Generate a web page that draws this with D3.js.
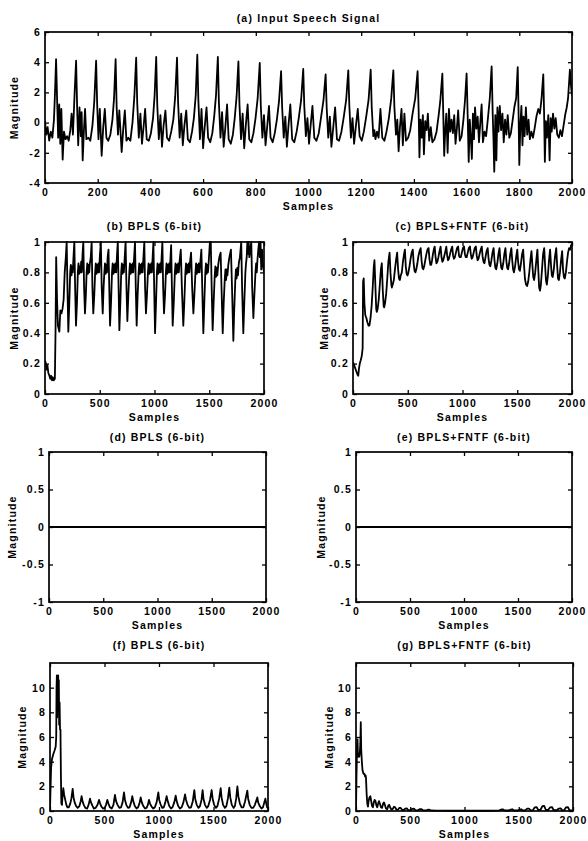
<!DOCTYPE html>
<html>
<head>
<meta charset="utf-8">
<script src="https://cdn.jsdelivr.net/npm/d3@7"></script>
<style>
  body { margin: 0; background: #fff; }
  svg text { font-family: "Liberation Sans", Arial, sans-serif; font-weight: bold; }
</style>
</head>
<body>
<div id="chart"></div>
<script>

// ---- data: [sample, magnitude] vertices ----

const titles = ["(a) Input Speech Signal", "(b) BPLS (6-bit)", "(c) BPLS+FNTF (6-bit)",
    "(d) BPLS (6-bit)", "(e) BPLS+FNTF (6-bit)", "(f) BPLS (6-bit)", "(g) BPLS+FNTF (6-bit)"];

const xTicksSpeech = [0, 200, 400, 600, 800, 1000, 1200, 1400, 1600, 1800, 2000];
const xTicksSmall = [0, 500, 1000, 1500, 2000];
const yTicksSpeech = [-4, -2, 0, 2, 4, 6];
const yTicksUnit = [0, 0.2, 0.4, 0.6, 0.8, 1];
const yTicksSym = [-1, -0.5, 0, 0.5, 1];
const yTicksErr = [0, 2, 4, 6, 8, 10];

const speech = [
    [0,0.1],[5,-0.8],[10,-0.3],[16,-1.2],[22,-0.6],[28,-1.0],[34,0.2],[38,2.0],
    [42,4.2],[46,1.5],[50,-1.0],[54,1.2],[58,-1.4],[62,0.9],[67,-2.45],[72,-0.6],[78,-1.1],[84,-0.9],[90,-1.2],[96,-0.5],[101,0.6],[106,-0.8],[112,1.8],
    [118,4.1],[122,1.0],[126,-1.5],[131,1.0],[136,-0.9],[139,0.7],[143,-2.5],[148,-0.4],[152,0.9],[157,-1.1],[165,-1.0],[172,-1.2],[180,-0.2],[187,1.4],
    [194,4.1],[198,1.2],[203,-1.1],[208,0.9],[215,-2.2],[221,-0.3],[227,0.9],[233,-1.0],[240,-1.2],[248,-0.8],[256,0.2],[262,1.6],
    [268,4.2],[272,1.0],[277,-0.8],[282,0.8],[291,-1.95],[297,-0.4],[303,0.8],[309,-1.2],[316,-1.0],[324,-1.2],[332,0.0],[339,1.7],
    [346,4.3],[350,1.3],[356,-1.0],[362,0.6],[368,-1.4],[374,-0.3],[380,0.9],[386,-1.1],[394,-1.2],[402,-0.7],[410,0.3],[416,1.8],
    [422,4.35],[426,1.2],[432,-1.1],[438,0.5],[444,-1.6],[450,-0.2],[457,0.8],[463,-1.0],[471,-1.2],[479,-0.6],[487,0.2],[494,1.7],
    [501,4.3],[505,1.4],[511,-1.0],[517,0.6],[523,-1.5],[529,-0.2],[536,0.8],[542,-1.1],[550,-1.3],[558,-0.6],[565,0.3],[572,1.8],
    [578,4.5],[582,1.5],[588,-1.1],[594,0.9],[600,-1.7],[606,-0.3],[613,1.0],[619,-1.0],[627,-1.3],[635,-0.7],[642,0.4],[649,1.8],
    [656,4.35],[660,1.3],[666,-1.0],[672,0.7],[678,-1.6],[684,-0.4],[691,1.2],[697,-1.1],[705,-1.4],[713,-0.8],[720,0.3],[727,1.7],
    [734,4.05],[738,1.2],[744,-1.1],[750,0.6],[756,-1.7],[762,-0.2],[769,1.2],[775,-1.1],[783,-1.3],[791,-0.7],[799,0.3],[807,1.6],
    [815,3.95],[819,1.1],[825,-1.0],[831,0.5],[837,-1.5],[843,-0.3],[850,1.1],[856,-1.0],[864,-1.3],[872,-0.7],[880,0.2],[888,1.4],
    [896,3.4],[900,1.0],[906,-1.0],[912,0.4],[918,-1.6],[924,-0.2],[931,1.2],[938,-1.1],[946,-1.3],[955,-0.6],[963,0.3],[972,1.5],
    [980,3.55],[984,1.1],[990,-0.9],[996,0.3],[1002,-1.4],[1008,-0.2],[1015,1.1],[1022,-1.0],[1030,-1.2],[1039,-0.7],[1048,0.4],[1057,1.5],
    [1065,3.2],[1069,1.0],[1075,-1.0],[1081,0.4],[1087,-1.6],[1094,-0.3],[1101,1.0],[1108,-1.1],[1116,-1.2],[1125,-0.6],[1134,0.4],[1143,1.5],
    [1151,3.46],[1155,1.1],[1161,-1.0],[1167,0.3],[1173,-1.4],[1180,-0.2],[1187,0.9],[1194,-0.9],[1202,-1.2],[1210,-0.6],[1219,0.4],[1228,1.5],
    [1236,3.5],[1240,1.0],[1246,-0.9],[1250,-0.5],[1254,-1.1],[1260,-0.6],[1266,-1.0],[1273,0.9],[1280,-1.0],[1288,-1.2],[1296,-0.6],[1305,0.3],[1314,1.6],
    [1322,3.46],[1326,1.0],[1332,-0.8],[1337,0.2],[1342,-1.9],[1347,-0.3],[1353,0.9],[1358,-1.5],[1364,0.6],[1370,-1.2],[1378,-1.0],[1386,-0.5],[1395,0.6],[1405,1.6],
    [1414,3.4],[1418,0.8],[1421,-2.3],[1425,0.2],[1430,-1.0],[1434,0.5],[1438,-2.1],[1443,0.1],[1448,-0.5],[1453,0.6],[1458,-1.2],[1464,-0.3],[1470,-1.3],[1478,-1.1],[1486,-0.6],[1494,0.5],[1500,1.4],
    [1508,3.24],[1511,0.9],[1515,-2.2],[1519,-0.5],[1523,0.6],[1528,-2.0],[1533,0.9],[1538,-0.6],[1543,0.2],[1548,-0.7],[1553,0.5],[1558,-1.4],[1563,-0.4],[1568,0.8],[1574,-1.2],[1581,-0.9],[1588,0.2],[1594,1.5],
    [1600,3.25],[1604,0.5],[1608,-2.6],[1612,0.2],[1616,-1.0],[1620,-2.4],[1624,0.6],[1628,-1.1],[1632,1.0],[1637,-0.4],[1642,0.4],[1647,-1.3],[1652,0.0],[1657,1.2],[1662,-1.3],[1668,-0.6],[1674,-0.9],[1681,0.3],[1688,1.6],
    [1695,3.72],[1699,0.6],[1702,-1.1],[1705,-3.25],[1709,0.5],[1713,-2.5],[1717,1.0],[1721,-0.6],[1726,1.1],[1731,-0.5],[1736,0.6],[1741,-1.3],[1746,0.2],[1751,-0.8],[1756,0.5],[1762,-1.0],[1768,-0.7],[1775,0.2],[1782,1.1],[1788,1.6],
    [1794,3.68],[1797,0.9],[1800,-2.8],[1804,-0.2],[1808,1.1],[1812,-1.5],[1816,0.4],[1820,-0.9],[1825,1.0],[1830,-0.8],[1835,0.2],[1840,-1.1],[1846,-0.6],[1852,-1.0],[1858,-0.4],[1865,0.4],[1872,0.9],[1878,0.6],[1884,1.5],
    [1891,3.2],[1894,0.7],[1897,-2.6],[1901,0.1],[1905,-1.0],[1910,0.5],[1915,-2.5],[1919,0.3],[1923,-0.6],[1928,0.6],[1933,-0.4],[1938,0.3],[1944,-0.8],[1950,-1.0],[1956,-0.5],[1962,-0.9],[1968,-0.2],[1974,0.5],[1980,1.0],[1985,1.6],
    [1992,3.5],[1996,2.5],[2000,1.8]
];

const bplsB = [
    [0,0.22],[8,0.2],[14,0.16],[22,0.19],[30,0.14],[40,0.12],[48,0.1],[56,0.12],[64,0.09],[72,0.11],[80,0.09],[90,0.1],[96,0.4],[102,0.9],[110,0.62],[118,0.45],
    [131,0.41],[140,0.55],[150,0.53],[160,0.56],[170,0.62],[180,0.8],[190,0.9],[198,1.0],[205,0.7],[213,0.41],
    [222,0.6],[230,0.8],[236,0.85],[242,0.78],[248,0.84],[254,0.8],[260,0.9],[268,1.0],[275,0.7],[283,0.45],
    [292,0.6],[300,0.8],[306,0.86],[312,0.79],[318,0.84],[324,0.8],[330,0.87],[336,0.8],[343,0.92],[350,1.0],[357,0.7],[365,0.53],
    [373,0.65],[380,0.8],[386,0.86],[392,0.79],[398,0.85],[404,0.8],[410,0.86],[418,0.9],[426,1.0],[433,0.7],[441,0.53],
    [450,0.65],[458,0.8],[464,0.86],[470,0.79],[476,0.85],[482,0.8],[488,0.86],[494,0.8],[502,0.92],[510,1.0],[518,0.7],[527,0.53],
    [535,0.7],[542,0.8],[548,0.86],[554,0.79],[560,0.85],[566,0.8],[572,0.9],[580,0.95],[587,0.7],[594,0.45],
    [603,0.6],[612,0.8],[618,0.86],[624,0.79],[630,0.85],[636,0.8],[642,0.86],[650,0.8],[658,0.92],[665,1.0],[672,0.7],[679,0.42],
    [688,0.6],[696,0.8],[702,0.86],[708,0.79],[714,0.85],[720,0.8],[728,0.9],[736,1.0],[744,0.7],[752,0.48],
    [761,0.65],[770,0.8],[776,0.86],[782,0.79],[788,0.85],[794,0.8],[800,0.86],[806,0.8],[814,0.9],[822,1.0],[829,0.7],[837,0.45],
    [846,0.65],[855,0.8],[861,0.86],[867,0.79],[873,0.85],[879,0.8],[885,0.86],[891,0.8],[899,0.9],[907,1.0],[914,0.7],[922,0.53],
    [931,0.65],[940,0.8],[946,0.86],[952,0.79],[958,0.85],[964,0.8],[970,0.86],[976,0.8],[983,0.9],[990,1.0],[997,0.7],[1005,0.4],
    [1014,0.6],[1022,0.8],[1028,0.86],[1034,0.79],[1040,0.85],[1046,0.8],[1052,0.86],[1058,0.8],[1065,0.9],[1072,1.0],[1079,0.7],[1087,0.53],
    [1096,0.65],[1104,0.8],[1110,0.86],[1116,0.79],[1122,0.85],[1128,0.8],[1134,0.86],[1140,0.8],[1146,0.9],[1152,0.98],[1159,0.7],[1166,0.45],
    [1176,0.6],[1186,0.8],[1192,0.86],[1198,0.79],[1204,0.85],[1210,0.8],[1216,0.86],[1222,0.8],[1230,0.88],[1240,0.95],[1250,0.7],[1263,0.45],
    [1272,0.6],[1282,0.8],[1288,0.86],[1294,0.79],[1300,0.85],[1306,0.8],[1312,0.86],[1318,0.8],[1326,0.88],[1334,0.93],[1344,0.7],[1355,0.53],
    [1364,0.65],[1374,0.8],[1380,0.86],[1386,0.79],[1392,0.85],[1398,0.8],[1404,0.86],[1412,0.8],[1420,0.88],[1428,0.95],[1436,0.7],[1446,0.4],
    [1455,0.6],[1464,0.8],[1470,0.86],[1476,0.79],[1482,0.85],[1488,0.8],[1496,0.88],[1506,1.0],[1514,1.0],[1522,0.7],[1531,0.42],
    [1540,0.6],[1550,0.78],[1556,0.84],[1562,0.77],[1568,0.83],[1574,0.78],[1582,0.85],[1592,0.9],[1604,0.93],[1612,0.7],[1623,0.4],
    [1632,0.6],[1642,0.76],[1648,0.82],[1654,0.75],[1660,0.82],[1666,0.78],[1674,0.85],[1684,0.9],[1698,0.95],[1708,0.7],[1720,0.35],
    [1728,0.55],[1738,0.75],[1744,0.82],[1750,0.76],[1756,0.83],[1762,0.78],[1770,0.86],[1780,0.9],[1792,1.0],[1800,0.7],[1811,0.4],
    [1820,0.6],[1830,0.8],[1836,0.86],[1842,0.9],[1848,1.0],[1854,0.92],[1860,1.0],[1866,0.9],[1874,0.95],[1884,1.0],[1892,0.7],[1903,0.5],
    [1912,0.65],[1922,0.8],[1928,0.86],[1934,0.8],[1940,0.88],[1948,0.95],[1955,1.0],[1962,0.9],[1968,1.0],[1975,0.82],[1982,0.95],[1990,0.85],[2000,0.8]
];

const fntfC = [
    [0,0.21],[10,0.19],[20,0.17],[30,0.15],[40,0.13],[48,0.12],[55,0.17],[62,0.2],[70,0.22],[80,0.25],[88,0.3],[92,0.74],[98,0.76],[104,0.6],[112,0.52],[122,0.5],[132,0.47],[142,0.45],[150,0.45],[160,0.5],[170,0.58],[180,0.7],[190,0.84],[196,0.88],
    [205,0.7],[212,0.56],[217,0.54],[225,0.56],[235,0.62],[245,0.72],[255,0.82],[263,0.86],
    [272,0.68],[280,0.58],[285,0.57],[293,0.6],[303,0.66],[313,0.76],[323,0.87],[334,0.93],
    [342,0.8],[350,0.72],[355,0.7],[363,0.72],[373,0.75],[383,0.82],[393,0.88],[403,0.93],
    [412,0.82],[420,0.76],[428,0.75],[436,0.78],[446,0.8],[456,0.87],[466,0.92],[474,0.95],
    [482,0.84],[490,0.79],[498,0.78],[506,0.8],[516,0.84],[526,0.89],[536,0.93],[546,0.95],
    [554,0.86],[562,0.81],[570,0.8],[578,0.82],[588,0.86],[598,0.91],[608,0.94],[618,0.96],
    [626,0.88],[634,0.83],[642,0.82],[650,0.84],[660,0.88],[670,0.92],[680,0.95],[690,0.96],
    [698,0.89],[706,0.85],[714,0.85],[722,0.88],[730,0.92],[738,0.95],[746,0.97],[754,0.9],[762,0.86],[770,0.87],[780,0.9],[790,0.94],[800,0.97],
    [808,0.9],[816,0.87],[824,0.88],[834,0.91],[844,0.94],[852,0.97],[860,0.91],[868,0.88],[876,0.89],[886,0.92],[896,0.95],[906,0.97],
    [914,0.91],[922,0.89],[930,0.9],[940,0.93],[950,0.96],[960,0.97],[968,0.91],[976,0.9],[984,0.9],[994,0.93],[1004,0.96],[1014,0.97],
    [1022,0.92],[1030,0.9],[1038,0.9],[1048,0.93],[1058,0.96],[1068,0.97],[1076,0.92],[1084,0.89],[1092,0.9],[1102,0.93],[1112,0.96],[1122,0.97],
    [1130,0.91],[1138,0.88],[1146,0.89],[1156,0.92],[1166,0.95],[1176,0.97],[1184,0.9],[1192,0.87],[1200,0.86],[1210,0.9],[1220,0.94],[1230,0.96],
    [1238,0.89],[1246,0.85],[1254,0.84],[1264,0.88],[1274,0.93],[1284,0.96],[1292,0.88],[1300,0.83],[1308,0.82],[1318,0.86],[1328,0.92],[1338,0.96],
    [1346,0.88],[1354,0.83],[1362,0.82],[1372,0.86],[1382,0.92],[1392,0.96],[1400,0.88],[1408,0.83],[1416,0.82],[1426,0.86],[1436,0.92],[1446,0.96],
    [1454,0.88],[1462,0.82],[1470,0.8],[1480,0.84],[1490,0.9],[1500,0.95],[1508,0.87],[1516,0.82],[1524,0.81],[1534,0.86],[1544,0.92],[1554,0.95],
    [1562,0.85],[1570,0.76],[1580,0.72],[1590,0.71],[1600,0.74],[1610,0.8],[1620,0.88],[1630,0.94],[1638,0.85],[1646,0.77],[1654,0.75],[1664,0.8],[1674,0.88],[1684,0.95],
    [1692,0.82],[1700,0.7],[1708,0.68],[1716,0.72],[1726,0.82],[1736,0.92],[1746,0.96],[1754,0.85],[1762,0.75],[1770,0.72],[1780,0.78],[1790,0.88],[1800,0.95],
    [1808,0.85],[1816,0.78],[1824,0.77],[1834,0.82],[1844,0.9],[1856,0.96],[1864,0.85],[1872,0.76],[1880,0.75],[1890,0.8],[1900,0.88],[1910,0.94],
    [1918,0.82],[1926,0.77],[1934,0.76],[1944,0.8],[1954,0.87],[1964,0.93],[1974,0.96],[1984,0.95],[1992,0.98],[2000,0.97]
];

const bplsD = [[0,0],[2000,0]];
const fntfE = [[0,0],[2000,0]];

const bplsF = [
    [0,0.05],[4,1.5],[10,3.5],[18,4.2],[30,4.6],[42,4.9],[52,5.2],[57,6],[60,10],[63,11],[66,7.6],[69,10.6],[72,8.2],[75,11],[78,8.8],[81,10.6],[84,7.0],[88,8.8],[92,6.6],[96,6.6],[100,3.0],[104,0.6],[110,0.5],
    [116,1.4],[122,1.85],[130,1.3],[140,0.9],[150,0.5],[160,0.3],[172,0.3],[186,0.6],[196,1.0],[208,1.8],[216,1.1],[226,0.7],[240,0.4],[254,0.25],
    [270,0.4],[282,0.8],[290,1.2],[298,0.8],[310,0.5],[324,0.25],[340,0.2],[354,0.5],[367,1.0],[376,0.7],[388,0.45],[402,0.2],
    [418,0.25],[436,0.5],[450,0.9],[460,0.6],[472,0.35],[488,0.2],[502,0.25],[514,0.5],[526,0.9],[536,0.6],[550,0.3],[566,0.2],
    [582,0.5],[596,1.3],[606,0.8],[620,0.5],[636,0.25],[652,0.3],[666,0.7],[679,1.5],[688,0.9],[700,0.5],[716,0.25],
    [730,0.3],[744,0.7],[755,1.2],[764,0.8],[778,0.4],[794,0.2],[808,0.3],[820,0.6],[832,1.1],[842,0.7],[856,0.4],[872,0.2],
    [886,0.25],[898,0.5],[908,0.9],[918,0.6],[932,0.35],[948,0.2],[962,0.3],[978,0.7],[994,1.5],[1002,0.9],[1016,0.5],[1030,0.25],
    [1044,0.3],[1058,0.7],[1070,1.2],[1080,0.8],[1094,0.4],[1110,0.2],[1124,0.3],[1140,0.7],[1153,1.25],[1162,0.8],[1176,0.4],[1192,0.2],
    [1208,0.3],[1224,0.7],[1239,1.35],[1248,0.9],[1262,0.5],[1278,0.25],[1294,0.3],[1310,0.8],[1324,1.7],[1332,1.0],[1346,0.5],[1362,0.25],
    [1376,0.4],[1390,0.9],[1400,1.7],[1408,1.0],[1422,0.5],[1438,0.25],[1452,0.4],[1468,0.9],[1483,1.7],[1492,1.0],[1506,0.5],[1522,0.25],
    [1536,0.4],[1552,1.0],[1566,1.85],[1574,1.1],[1588,0.5],[1604,0.25],[1618,0.4],[1632,1.0],[1645,1.9],[1654,1.1],[1668,0.5],[1684,0.25],
    [1696,0.4],[1708,1.0],[1719,2.0],[1728,1.2],[1742,0.6],[1758,0.3],[1774,0.3],[1790,0.8],[1810,1.65],[1818,1.0],[1832,0.5],[1848,0.25],
    [1864,0.25],[1880,0.5],[1902,1.1],[1910,0.7],[1924,0.4],[1940,0.2],[1954,0.3],[1966,0.7],[1976,1.0],[1984,0.6],[1992,0.3],[2000,0.2]
];

const fntfG = [
    [0,0.0],[4,2.5],[8,4.5],[14,5.8],[18,4.4],[24,4.6],[30,4.4],[36,4.8],[40,5.5],[44,7.2],[48,5.0],[54,4.0],[60,3.3],[66,3.1],[72,3.0],[78,3.0],[84,2.8],[88,2.9],[92,2.7],[98,1.4],[104,0.6],[110,0.35],
    [116,0.8],[124,1.1],[132,1.2],[140,0.8],[148,0.4],[156,0.3],[164,0.7],[172,0.9],[180,0.8],[188,0.45],[196,0.3],[204,0.6],[212,0.8],[220,0.6],[230,0.3],[240,0.25],
    [250,0.6],[258,0.7],[266,0.5],[276,0.2],[288,0.15],[298,0.45],[306,0.5],[314,0.3],[326,0.12],[338,0.15],[350,0.35],[360,0.3],[372,0.12],[386,0.1],
    [400,0.25],[412,0.25],[424,0.1],[440,0.08],[456,0.2],[468,0.22],[480,0.08],[500,0.06],[520,0.18],[534,0.2],[548,0.06],[570,0.05],[590,0.15],[604,0.15],[618,0.05],
    [640,0.04],[662,0.1],[676,0.1],[690,0.04],[740,0.03],[800,0.03],[860,0.02],[920,0.03],[980,0.02],[1040,0.03],[1100,0.02],[1160,0.03],[1220,0.02],[1280,0.03],
    [1320,0.05],[1340,0.12],[1356,0.12],[1372,0.04],[1410,0.04],[1426,0.12],[1440,0.14],[1456,0.04],[1490,0.04],[1508,0.12],[1522,0.14],[1538,0.04],
    [1560,0.05],[1578,0.2],[1594,0.2],[1610,0.05],[1630,0.06],[1648,0.3],[1664,0.32],[1680,0.08],[1700,0.08],[1718,0.4],[1734,0.42],[1750,0.08],
    [1770,0.08],[1790,0.3],[1806,0.32],[1822,0.06],[1850,0.06],[1870,0.2],[1886,0.22],[1902,0.05],[1920,0.08],[1936,0.3],[1952,0.32],[1968,0.06],[2000,0.05]
];

// ---- layout of the seven axes boxes (pixels) ----
const panels = [
    {data: speech, left: 45,  right: 572, top: 32,  bottom: 183, yDomain: [-4, 6],  xTicks: xTicksSpeech, yTicks: yTicksSpeech, titleY: 22,  labelX: 18},
    {data: bplsB,  left: 45,  right: 264, top: 242, bottom: 394, yDomain: [0, 1],   xTicks: xTicksSmall,  yTicks: yTicksUnit,   titleY: 230, labelX: 18},
    {data: fntfC,  left: 353, right: 572, top: 242, bottom: 394, yDomain: [0, 1],   xTicks: xTicksSmall,  yTicks: yTicksUnit,   titleY: 230, labelX: 328},
    {data: bplsD,  left: 49,  right: 266, top: 452, bottom: 602, yDomain: [-1, 1],  xTicks: xTicksSmall,  yTicks: yTicksSym,    titleY: 441, labelX: 16},
    {data: fntfE,  left: 356, right: 572, top: 452, bottom: 602, yDomain: [-1, 1],  xTicks: xTicksSmall,  yTicks: yTicksSym,    titleY: 441, labelX: 325},
    {data: bplsF,  left: 50,  right: 268, top: 663, bottom: 811, yDomain: [0, 12],  xTicks: xTicksSmall,  yTicks: yTicksErr,    titleY: 649, labelX: 26},
    {data: fntfG,  left: 356, right: 573, top: 663, bottom: 811, yDomain: [0, 12],  xTicks: xTicksSmall,  yTicks: yTicksErr,    titleY: 649, labelX: 333}
];

const width = 588, height = 841;
const fontSize = 10.5, spacing = 1.2;

const svg = d3.select("#chart").append("svg")
    .attr("width", width)
    .attr("height", height);

function styleText(sel) {
    sel.attr("font-family", "Liberation Sans, Arial, sans-serif")
        .attr("font-weight", "bold")
        .attr("font-size", fontSize)
        .attr("letter-spacing", spacing)
        .attr("fill", "#000");
}

panels.forEach((p, i) => {
    let x = d3.scaleLinear().domain([0, 2000]).range([p.left, p.right]);
    let y = d3.scaleLinear().domain(p.yDomain).range([p.bottom, p.top]);
    let g = svg.append("g");

    g.append("clipPath").attr("id", "clip" + i)
        .append("rect")
        .attr("x", p.left).attr("y", p.top - 1)
        .attr("width", p.right - p.left).attr("height", p.bottom - p.top + 2);

    // signal
    g.append("path")
        .datum(p.data)
        .attr("clip-path", "url(#clip" + i + ")")
        .attr("fill", "none")
        .attr("stroke", "#000")
        .attr("stroke-width", 1.8)
        .attr("stroke-linejoin", "round")
        .attr("d", d3.line().x(d => x(d[0])).y(d => y(d[1])));

    // axes with inward ticks on all four sides
    let fmt = d => String(d);
    let bottom = g.append("g").attr("transform", "translate(0," + p.bottom + ")")
        .call(d3.axisBottom(x).tickValues(p.xTicks).tickFormat(fmt).tickSize(-4).tickSizeOuter(0).tickPadding(6));
    g.append("g").attr("transform", "translate(0," + p.top + ")")
        .call(d3.axisTop(x).tickValues(p.xTicks).tickFormat("").tickSize(-4).tickSizeOuter(0));
    let left = g.append("g").attr("transform", "translate(" + p.left + ",0)")
        .call(d3.axisLeft(y).tickValues(p.yTicks).tickFormat(fmt).tickSize(-4).tickSizeOuter(0).tickPadding(4));
    g.append("g").attr("transform", "translate(" + p.right + ",0)")
        .call(d3.axisRight(y).tickValues(p.yTicks).tickFormat("").tickSize(-4).tickSizeOuter(0));

    g.selectAll(".domain").remove();
    g.selectAll(".tick line").attr("stroke", "#000").attr("stroke-width", 1.3);
    styleText(bottom.selectAll("text"));
    styleText(left.selectAll("text"));

    // frame
    g.append("rect")
        .attr("x", p.left).attr("y", p.top)
        .attr("width", p.right - p.left).attr("height", p.bottom - p.top)
        .attr("fill", "none")
        .attr("stroke", "#000")
        .attr("stroke-width", 1.7);

    let cx = (p.left + p.right) / 2;

    g.append("text")
        .attr("x", cx).attr("y", p.titleY)
        .attr("text-anchor", "middle")
        .call(styleText)
        .text(titles[i]);

    g.append("text")
        .attr("x", cx).attr("y", p.bottom + 27)
        .attr("text-anchor", "middle")
        .call(styleText)
        .text("Samples");

    g.append("text")
        .attr("transform", "translate(" + p.labelX + "," + ((p.top + p.bottom) / 2) + ") rotate(-90)")
        .attr("text-anchor", "middle")
        .call(styleText)
        .text("Magnitude");
});

</script>
</body>
</html>
